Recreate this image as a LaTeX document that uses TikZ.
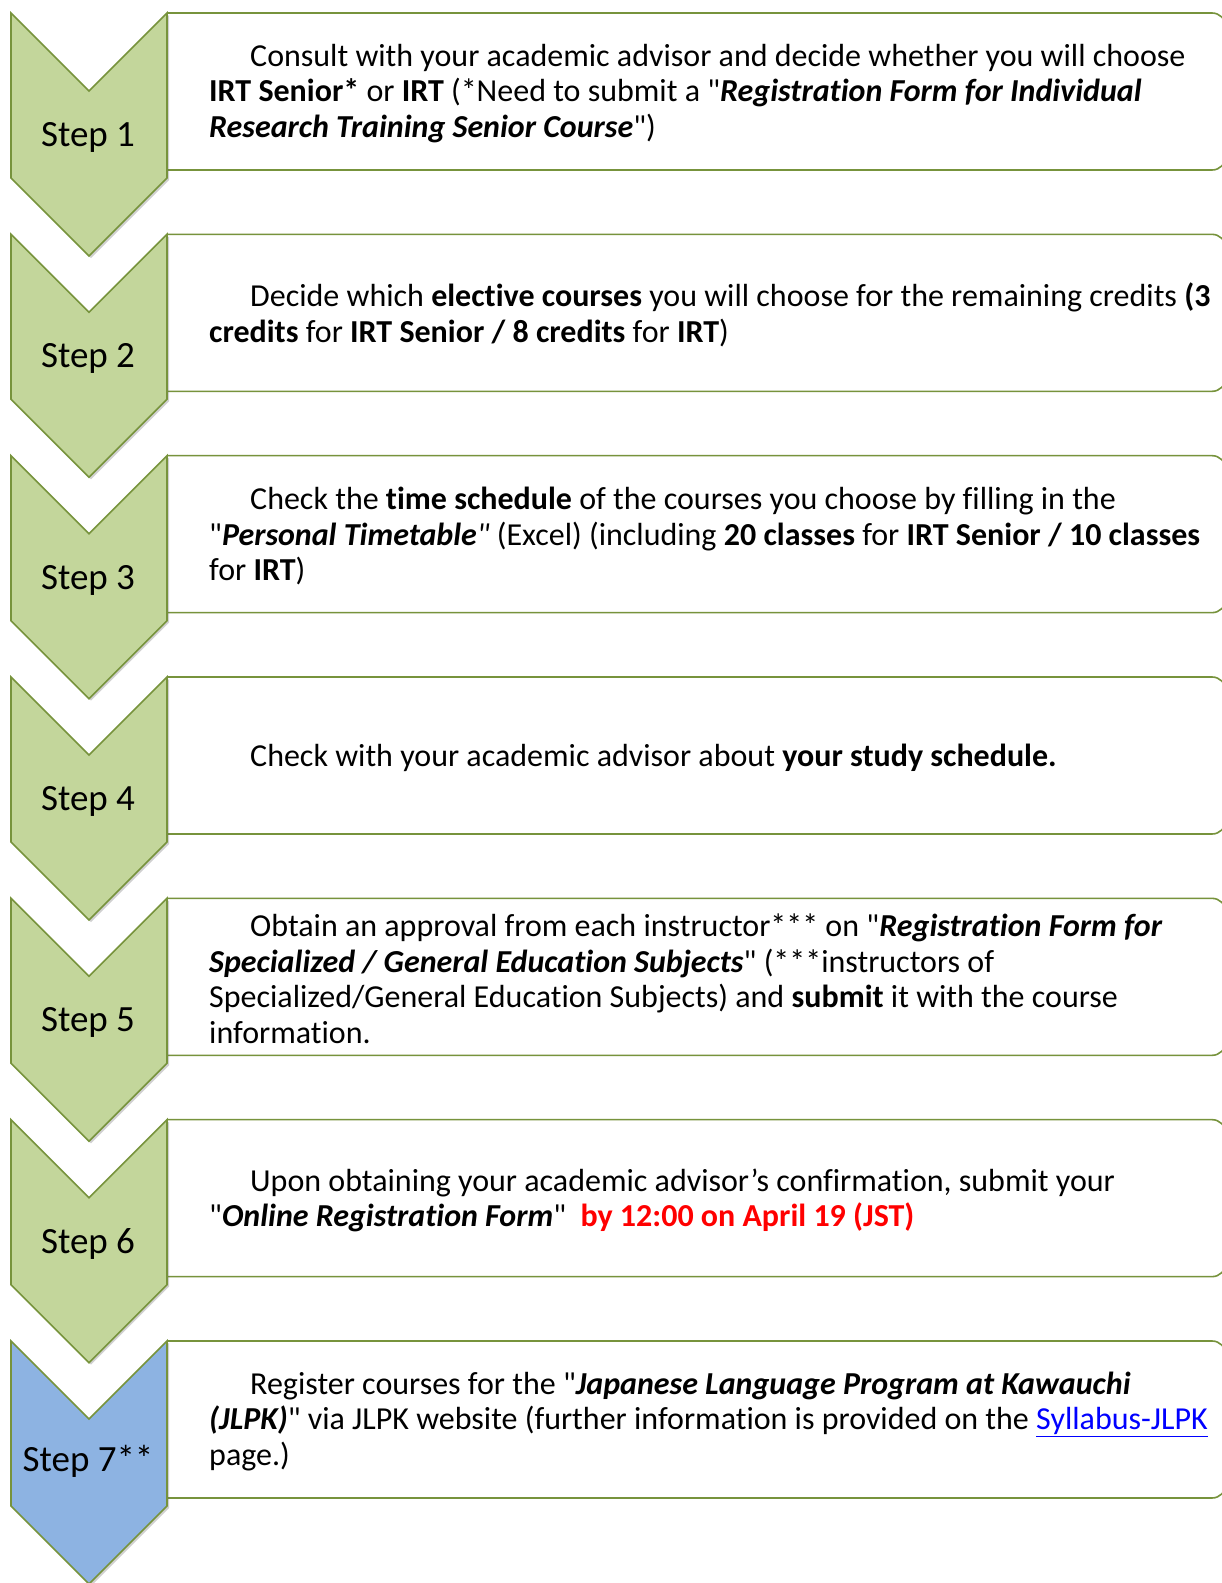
\documentclass[tikz,border=0pt]{standalone}
\usepackage{fontspec}
\newfontfamily\carl{Carlito}[Ligatures=CommonOff]
\usetikzlibrary{shadows}
\definecolor{chevgreen}{HTML}{C3D69B}
\definecolor{chevblue}{HTML}{8DB3E2}
\definecolor{edgegreen}{HTML}{77933C}
\definecolor{linkblue}{HTML}{0000FF}
\definecolor{deadred}{HTML}{FF0000}
\newcommand{\bi}[1]{\textbf{\textit{#1}}}
\newcommand{\ind}{\hspace*{41pt}}
\tikzset{
  chevron/.style={draw=edgegreen, line width=1.6pt, line join=miter,
    drop shadow={shadow xshift=2pt, shadow yshift=-2pt, opacity=0.3, fill=black!60}},
  stepbox/.style={draw=edgegreen, line width=1.6pt, fill=white, rounded corners=14pt},
  steplabel/.style={font=\carl\fontsize{37}{42}\selectfont, inner sep=0pt},
  bodytext/.style={anchor=west, align=left, inner sep=0pt,
    font=\carl\fontsize{32}{35.4}\selectfont}
}
\begin{document}
\begin{tikzpicture}[x=1pt, y=-1pt]
\useasboundingbox (0,0) rectangle (1222,1583);
\fill[white] (0,0) rectangle (1222,1583);
% boxes and chevrons
\foreach \i/\c in {1/chevgreen,2/chevgreen,3/chevgreen,4/chevgreen,5/chevgreen,6/chevgreen,7/chevblue}{
  \pgfmathsetmacro{\t}{13+(\i-1)*221.33}
  \pgfmathsetmacro{\b}{\t+157}
  \filldraw[stepbox] (167,\t) -- (1226,\t) -- (1226,\b) -- (167,\b);
  \path[chevron, fill=\c] (11,\t) -- (89,\t+78) -- (167,\t) -- (167,\t+165) -- (89,\t+243) -- (11,\t+165) -- cycle;
}
% step labels
\node[steplabel] (s1) at (88,137.5) {Step 1};
\node[steplabel] (s2) at (88,358.8) {Step 2};
\node[steplabel] (s3) at (88,580.2) {Step 3};
\node[steplabel] (s4) at (88,801.5) {Step 4};
\node[steplabel] (s5) at (88,1022.8) {Step 5};
\node[steplabel] (s6) at (88,1244.2) {Step 6};
\node[steplabel] (s7) at (88,1461) {Step 7**};
% texts
\node[bodytext] (t1) at (209,93.5) {\ind Consult with your academic advisor and decide whether you will choose\\
\textbf{IRT Senior*} or \textbf{IRT} (*Need to submit a "\bi{Registration Form for Individual}\\
\bi{Research Training Senior Course}")};
\node[bodytext] (t2) at (209,314.8) {\ind Decide which \textbf{elective courses} you will choose for the remaining credits \textbf{(3}\\
\textbf{credits} for \textbf{IRT Senior / 8 credits} for \textbf{IRT})};
\node[bodytext] (t3) at (209,536.2) {\ind Check the \textbf{time schedule} of the courses you choose by filling in the\\
"\bi{Personal Timetable}\textit{"} (Excel) (including \textbf{20 classes} for \textbf{IRT Senior / 10 classes}\\
for \textbf{IRT})};
\node[bodytext] (t4) at (209,757.5) {\ind Check with your academic advisor about \textbf{your study schedule.}};
\node[bodytext] (t5) at (209,978.8) {\ind Obtain an approval from each instructor*** on "\bi{Registration Form for}\\
\bi{Specialized / General Education Subjects}" (***instructors of\\
Specialized/General Education Subjects) and \textbf{submit} it with the course\\
information.};
\node[bodytext] (t6) at (209,1200.2) {\ind Upon obtaining your academic advisor’s confirmation, submit your\\
"\bi{Online Registration Form}"\ \ \textcolor{deadred}{\textbf{by 12:00 on April 19 (JST)}}};
\node[bodytext] (t7) at (209,1421.5) {\ind Register courses for the "\bi{Japanese Language Program at Kawauchi}\\
\bi{(JLPK)}" via JLPK website (further information is provided on the \textcolor{linkblue}{\underline{Syllabus-JLPK}}\\
page.)};
\end{tikzpicture}
\end{document}
